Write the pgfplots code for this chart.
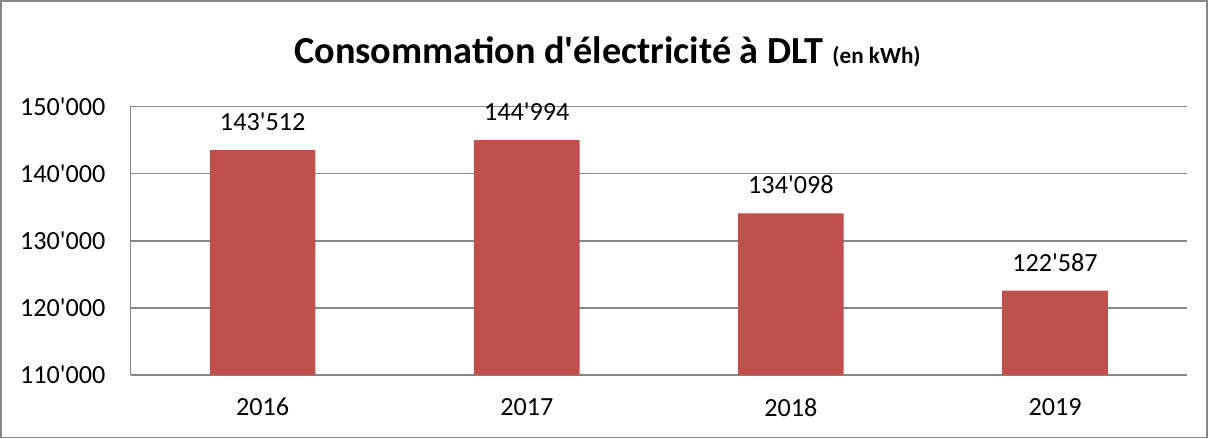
\documentclass[border=0pt]{standalone}
\usepackage{pgfplots}
\pgfplotsset{compat=1.18}
\usepackage{fontspec}
\newfontfamily\calibri{Carlito}
\definecolor{barred}{HTML}{C0504D}
\definecolor{gridgray}{HTML}{868686}
\begin{document}
\calibri
\begin{tikzpicture}[x=1pt,y=1pt]
\begin{axis}[
  at={(0,0)}, anchor=south west,
  scale only axis,
  width=525pt, height=133.5pt,
  xmin=-0.5, xmax=3.5,
  ymin=110000, ymax=150000,
  ytick={110000,120000,130000,140000,150000},
  scaled y ticks=false,
  xtick={0,1,2,3},
  xticklabels={2016,2017,2018,2019},
  ymajorgrids,
  grid style={gridgray, line width=0.8pt},
  axis x line*=bottom,
  axis y line*=left,
  axis line style={gridgray, line width=0.8pt},
  major tick length=0pt,
  tick style={draw=none},
  /pgf/number format/assume math mode=true,
  yticklabel style={/pgf/number format/1000 sep={'}, /pgf/number format/fixed, /pgf/number format/precision=0, font=\calibri\fontsize{13}{15}\selectfont, xshift=-9pt},
  xticklabel style={font=\calibri\fontsize{13}{15}\selectfont, yshift=-8pt},
  ybar, bar width=0.4,
  nodes near coords={\pgfmathprintnumber[1000 sep={'},fixed,precision=0]{\pgfplotspointmeta}},
  nodes near coords style={font=\calibri\fontsize{13}{15}\selectfont, yshift=6pt},
  clip=false,
]
\addplot[fill=barred, draw=none, bar shift=0pt] coordinates {(0,143512) (1,144994) (2,134098) (3,122587)};
\end{axis}
\draw[gridgray, line width=0.8pt] (-64.5pt,-31pt) rectangle (535pt,186pt);
\node[font=\calibri\bfseries\fontsize{19}{21}\selectfont] at (237pt,160.5pt) {Consommation d'électricité à DLT {\fontsize{11.5}{12}\selectfont (en kWh)}};
\end{tikzpicture}
\end{document}
